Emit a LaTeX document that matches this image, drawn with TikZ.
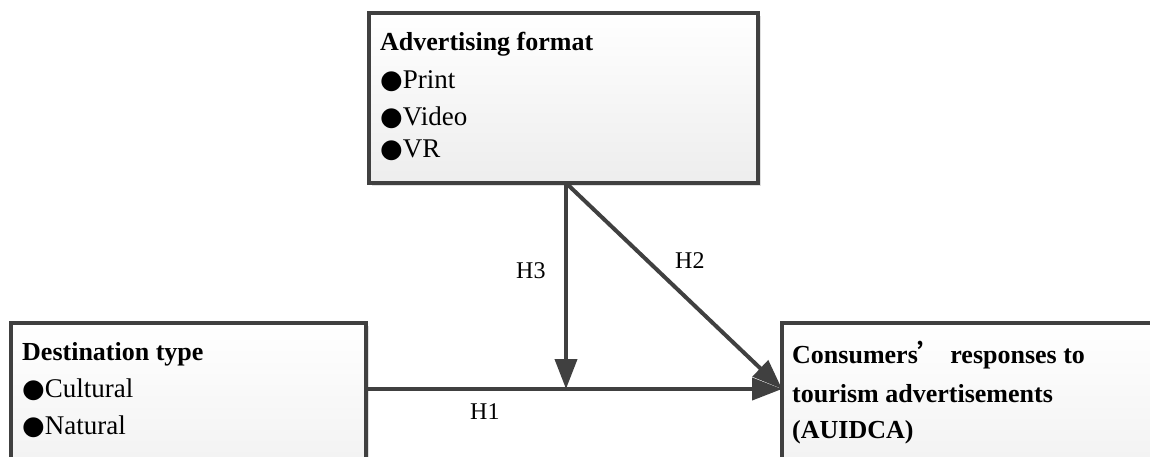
\documentclass[tikz,border=0pt]{standalone}
\usepackage{fontspec}
\setmainfont{Liberation Serif}
\newfontfamily\cjk{Noto Sans CJK SC}
\newfontfamily\symfont{DejaVu Sans}
\newcommand{\bul}{{\symfont\fontsize{26}{26}\selectfont ●}}
\usetikzlibrary{arrows.meta,shadows}
\definecolor{linegray}{HTML}{404040}
\tikzset{
	box/.style={draw=linegray, line width=4pt, top color=white, bottom color=gray!14,
		drop shadow={shadow xshift=3pt, shadow yshift=-3pt, fill=gray!25, opacity=1},
		anchor=north west, inner sep=0pt, outer sep=0pt},
	txt/.style={anchor=base west, inner sep=0pt, font=\fontsize{27}{30}\selectfont},
	head/.style={txt, font=\fontsize{26}{30}\selectfont\bfseries},
	hlab/.style={anchor=base west, inner sep=0pt, font=\fontsize{24}{28}\selectfont},
	link/.style={draw=linegray, line width=4pt, -{Triangle[length=30pt,width=22pt]}}
}
\begin{document}
\begin{tikzpicture}[x=1pt,y=-1pt]
	\path[use as bounding box, clip] (0,0) rectangle (1150,456);
	% Boxes
	\node[box, minimum width=389, minimum height=170] (fmt) at (369,13) {};
	\node[box, minimum width=355, minimum height=200] (dest) at (11,323) {};
	\node[box, minimum width=420, minimum height=200] (resp) at (782,323) {};
	% Box texts
	\node[head] (fmt-head) at (380,50) {Advertising format};
	\node[txt] (fmt-print) at (380,88) {\bul Print};
	\node[txt] (fmt-video) at (380,125) {\bul Video};
	\node[txt] (fmt-vr) at (380,157) {\bul VR};
	\node[head] (dest-head) at (22,360) {Destination type};
	\node[txt] (dest-cult) at (22,397) {\bul Cultural};
	\node[txt] (dest-nat) at (22,434) {\bul Natural};
	\node[head] (resp-1) at (792,363) {Consumers{\cjk ’} responses to};
	\node[head] (resp-2) at (792,402) {tourism advertisements};
	\node[head] (resp-3) at (792,438) {(AUIDCA)};
	% Paths
	\coordinate (junc) at (566,389);
	\draw[link] (dest.east |- junc) -- (resp.west |- junc);
	\draw[link] (fmt.south -| junc) -- (junc);
	\draw[link] (fmt.south -| junc) -- (resp.west |- junc);
	\node[hlab] (h3) at (516,278) {H3};
	\node[hlab] (h2) at (675,268) {H2};
	\node[hlab] (h1) at (470,419) {H1};
\end{tikzpicture}
\end{document}
